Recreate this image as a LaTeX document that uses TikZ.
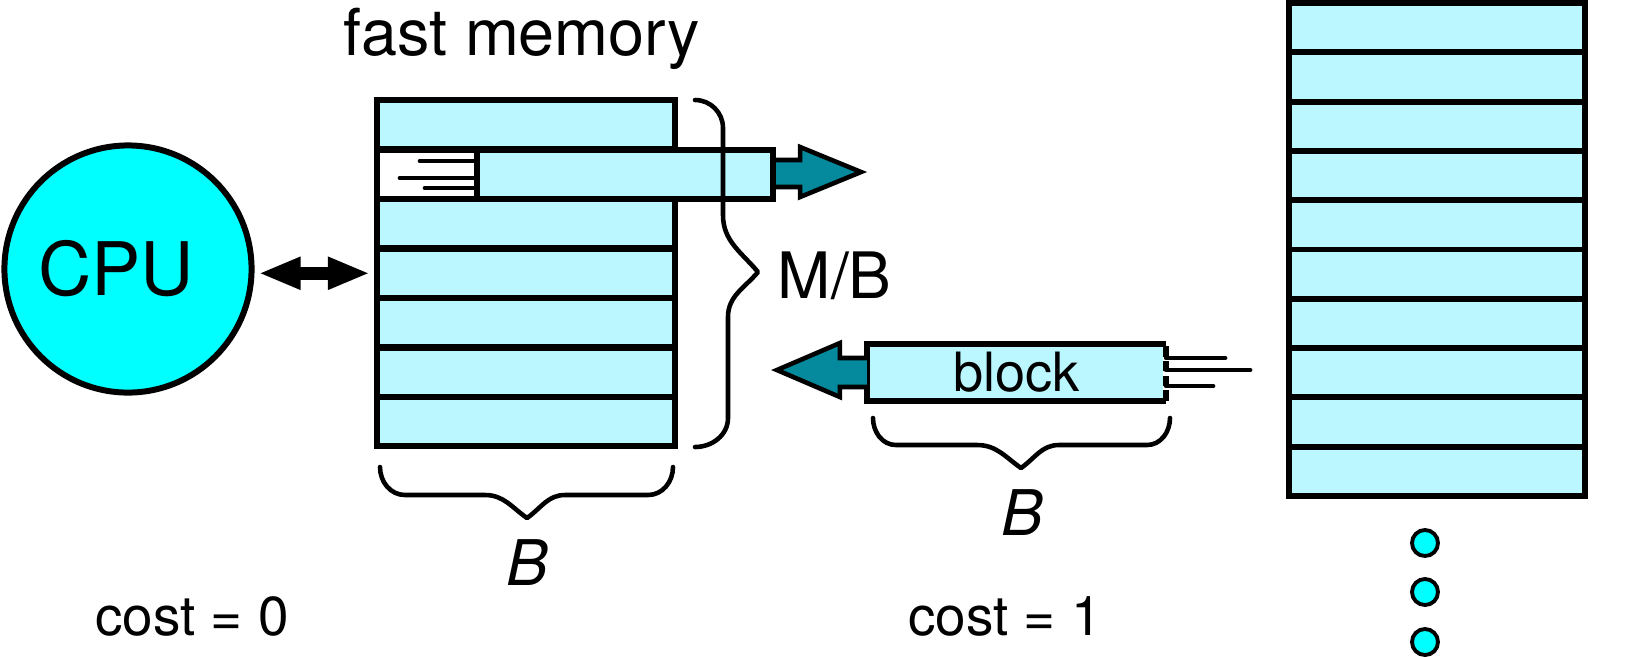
\documentclass[tikz,border=0pt]{standalone}
\usepackage{fontspec}
\setmainfont{TeX Gyre Heros}
\usetikzlibrary{arrows.meta}
\definecolor{cellcyan}{RGB}{187,247,255}
\definecolor{cpucyan}{RGB}{0,255,255}
\definecolor{arrowteal}{RGB}{4,138,156}
\tikzstyle{cell} = [rectangle, draw=black, line width=1.7pt, fill=cellcyan, inner sep=0pt, minimum height=0.493cm]
\tikzstyle{brace} = [line width=1.3pt, line cap=round, line join=round]
\tikzstyle{bigarrow} = [draw=black, fill=arrowteal, line width=1.3pt, line join=miter]
\tikzstyle{streak} = [line width=1.3pt, line cap=round]
\tikzstyle{dot} = [circle, draw=black, line width=1.1pt, fill=cpucyan, minimum size=0.26cm, inner sep=0pt]
\tikzstyle{txt} = [inner sep=0pt, anchor=base]

\begin{document}
\begin{tikzpicture}[x=0.01cm, y=-0.01cm]
\useasboundingbox (0,0) rectangle (1629,656);

% processor
\node (cpu) [circle, draw=black, line width=1.7pt, fill=cpucyan, minimum size=2.47cm, inner sep=0pt] at (128,269) {};
\node (cpulbl) [font=\fontsize{21}{21}\selectfont, inner sep=0pt] at (116,269) {CPU};

% fast memory, M/B lines of size B
\node (fastlbl) [txt, font=\fontsize{18.4}{19}\selectfont] at (522,55) {fast memory};
\foreach \i in {0,2,3,4,5,6}
  \node (fast\i) [cell, minimum width=2.98cm] at (526,124.75+49.5*\i) {};
\node (fast1) [cell, minimum width=2.98cm, fill=white] at (526,174.25) {};

\draw [line width=0.13cm, shorten <=0.04cm, shorten >=0.04cm,
  {Triangle[width=0.3cm,length=0.42cm]}-{Triangle[width=0.3cm,length=0.42cm]}]
  (cpu.east |- fast3.west) -- (fast3.west);

% block leaving fast memory
\node (outblock) [cell, minimum width=2.96cm, minimum height=0.49cm] at (625,174.5) {};
\draw [streak] (outblock.west) ++(0,-13.5) -- ++(-54,0);
\draw [streak] (outblock.west) ++(0,3.5) -- ++(-74,0);
\draw [streak] (outblock.west) ++(0,13.5) -- ++(-49,0);
\draw [bigarrow, shift={(outblock.east)}]
  (0,-14.5) -- (24,-14.5) -- (24,-27.5) -- (85,-2.5) -- (24,22.5) -- (24,12.5) -- (0,12.5);

% M/B brace
\draw [brace] (695,100) to[out=0,in=90] (723,128) -- (723,215)
  to[out=-90,in=130] (758,272) to[out=-130,in=90] (728,317) -- (728,418)
  to[out=-90,in=0] (695,447);
\node (mblbl) [txt, anchor=base west, font=\fontsize{18.2}{18}\selectfont] at (777,298) {M/B};

% B brace under fast memory
\draw [brace] (380,467) to[out=-90,in=180] (405,495) -- (485,495)
  to[out=0,in=145] (527,518) to[out=35,in=180] (565,495) -- (648,495)
  to[out=0,in=-90] (673,467);
\node (bfast) [txt, font=\fontsize{17.9}{18}\selectfont\itshape] at (527,585) {B};

% block coming in from slow memory
\node (inblock) [cell, draw=none, minimum width=2.93cm, minimum height=0.51cm, font=\fontsize{15.4}{16}\selectfont] at (1016.5,372.5) {block};
\draw [line width=1.7pt] (inblock.north east) -- (inblock.north west) -- (inblock.south west) -- (inblock.south east);
\draw [line width=1.7pt, dash pattern=on 3pt off 1.2pt] (inblock.south east) -- (inblock.north east);
\draw [streak] (inblock.east) ++(0,-14.5) -- ++(59,0);
\draw [streak] (inblock.east) ++(0,-2.5) -- ++(84,0);
\draw [streak] (inblock.east) ++(0,13.5) -- ++(47,0);
\draw [bigarrow, shift={(inblock.west)}]
  (0,-14.5) -- (-27,-14.5) -- (-27,-29.5) -- (-90,-2.5) -- (-27,24.5) -- (-27,14.5) -- (0,14.5);

% B brace under the block
\draw [brace] (873,418) to[out=-90,in=180] (896,445) -- (977,445)
  to[out=0,in=145] (1021,468) to[out=35,in=180] (1059,445) -- (1147,445)
  to[out=0,in=-90] (1170,418);
\node (bblock) [txt, font=\fontsize{17.9}{18}\selectfont\itshape] at (1022,535) {B};

% slow memory
\foreach \i in {0,...,9}
  \node (slow\i) [cell, minimum width=2.96cm] at (1437,27.65+49.3*\i) {};
\node (dot1) [dot] at (1425,543) {};
\node (dot2) [dot] at (1425,592) {};
\node (dot3) [dot] at (1425,642) {};

% costs
\node (cost0) [txt, font=\fontsize{15.6}{16}\selectfont] at (192,635) {cost = 0};
\node (cost1) [txt, font=\fontsize{15.6}{16}\selectfont] at (1005,635) {cost = 1};
\end{tikzpicture}
\end{document}
